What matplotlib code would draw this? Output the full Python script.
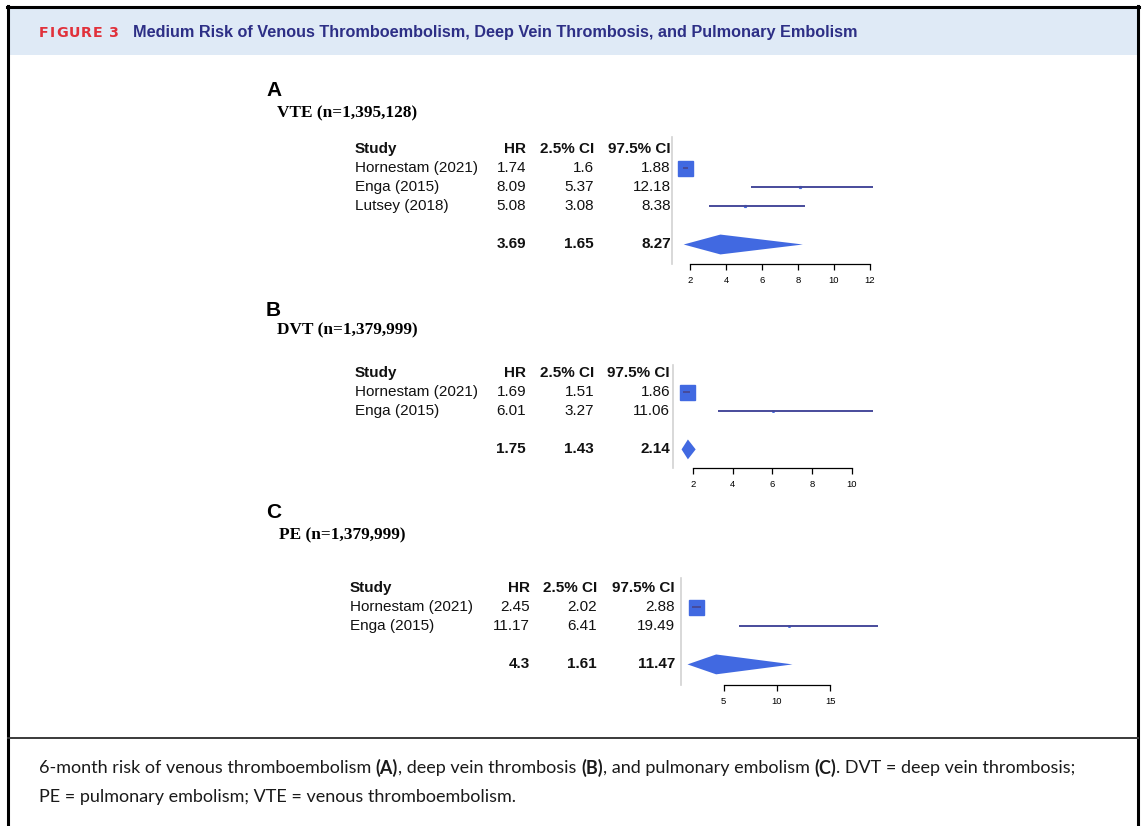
import matplotlib
matplotlib.use("Agg")
import matplotlib.pyplot as plt
import matplotlib.transforms as mtransforms
from matplotlib.patches import Rectangle
from matplotlib.lines import Line2D

W, H = 1142, 826

# ---- data ----
fig_label = "FIGURE 3"
header_title = "Medium Risk of Venous Thromboembolism, Deep Vein Thrombosis, and Pulmonary Embolism"
panel_letters = ["A", "B", "C"]
panel_titles = ["VTE (n=1,395,128)", "DVT (n=1,379,999)", "PE (n=1,379,999)"]
col_headers = ["Study", "HR", "2.5% CI", "97.5% CI"]

vte_studies = ["Hornestam (2021)", "Enga (2015)", "Lutsey (2018)"]
vte_hr = [1.74, 8.09, 5.08]
vte_lo = [1.6, 5.37, 3.08]
vte_hi = [1.88, 12.18, 8.38]
vte_weight = [1.0, 0.12, 0.12]
vte_pooled = [3.69, 1.65, 8.27]
vte_ticks = [2, 4, 6, 8, 10, 12]

dvt_studies = ["Hornestam (2021)", "Enga (2015)"]
dvt_hr = [1.69, 6.01]
dvt_lo = [1.51, 3.27]
dvt_hi = [1.86, 11.06]
dvt_weight = [1.0, 0.1]
dvt_pooled = [1.75, 1.43, 2.14]
dvt_ticks = [2, 4, 6, 8, 10]

pe_studies = ["Hornestam (2021)", "Enga (2015)"]
pe_hr = [2.45, 11.17]
pe_lo = [2.02, 6.41]
pe_hi = [2.88, 19.49]
pe_weight = [1.0, 0.1]
pe_pooled = [4.3, 1.61, 11.47]
pe_ticks = [5, 10, 15]

caption_line1 = [("6-month risk of venous thromboembolism ", "normal"), ("(A)", "bold"),
                 (", deep vein thrombosis ", "normal"), ("(B)", "bold"),
                 (", and pulmonary embolism ", "normal"), ("(C)", "bold"),
                 (". DVT = deep vein thrombosis;", "normal")]
caption_line2 = [("PE = pulmonary embolism; VTE = venous thromboembolism.", "normal")]

panels = [
    (vte_studies, vte_hr, vte_lo, vte_hi, vte_weight, vte_pooled, vte_ticks),
    (dvt_studies, dvt_hr, dvt_lo, dvt_hi, dvt_weight, dvt_pooled, dvt_ticks),
    (pe_studies, pe_hr, pe_lo, pe_hi, pe_weight, pe_pooled, pe_ticks),
]

# pixel layout of each panel (x0/x1 = plot area, ppu = pixels per HR unit)
layouts = [
    dict(letter_y=90, title_y=113, x0=672, x1=880, ppu=18.0, top=137, bottom=264, head=149,
         cols=(355, 526, 594, 671), title_x=277),
    dict(letter_y=311, title_y=330, x0=673, x1=880, ppu=19.875, top=365, bottom=468, head=373,
         cols=(355, 526, 594, 670), title_x=277),
    dict(letter_y=512, title_y=535, x0=681, x1=882, ppu=10.65, top=578, bottom=685, head=588,
         cols=(350, 530, 597, 675), title_x=279),
]
ROW = 19.1

BOX = "#4169e1"
CI_LINE = "#474b9b"
NAVY = "#2d2f86"
RED = "#e1313b"

fig = plt.figure(figsize=(W / 100, H / 100), dpi=100)
px = mtransforms.Affine2D().scale(1.0 / W, -1.0 / H).translate(0, 1) + fig.transFigure
renderer = fig.canvas.get_renderer()


def text_w(s, **kw):
    t = fig.text(0, 0, s, **kw)
    w = t.get_window_extent(renderer).width
    t.remove()
    return w


def space_w(**kw):
    return text_w("a a", **kw) - text_w("aa", **kw)


def runs_width(runs, size, family):
    total = 0
    for s, wt in runs:
        kw = dict(fontsize=size, family=family, fontweight=wt)
        core = s.strip(" ")
        n_sp = len(s) - len(core)
        total += text_w(core, **kw) + n_sp * space_w(**kw)
    return total


def draw_runs(x, y, runs, size, family, color):
    for s, wt in runs:
        kw = dict(fontsize=size, family=family, fontweight=wt)
        lead = len(s) - len(s.lstrip(" "))
        trail = len(s) - len(s.rstrip(" "))
        core = s.strip(" ")
        sw = space_w(**kw)
        x += lead * sw
        fig.text(x, y, core, transform=px, va="center", ha="left", color=color, **kw)
        x += text_w(core, **kw) + trail * sw
    return x


# ---- frame and header band ----
fig.add_artist(Rectangle((9, 8), 1128, 47, transform=px, facecolor="#dfeaf6", edgecolor="none"))
for xs, ys, lw, c in [([8, 8], [6, 826], 2.2, "black"),
                      ([1138, 1138], [6, 826], 2.2, "black"),
                      ([7, 1139], [7, 7], 2.2, "black"),
                      ([8, 1138], [738, 738], 1.4, "#3a3a3a")]:
    fig.add_artist(Line2D(xs, ys, transform=px, color=c, lw=lw))

# "FIGURE 3" with wide letter spacing
lab_kw = dict(fontsize=10.3, family="DejaVu Sans", fontweight="heavy", color=RED)
widths = [text_w(ch, **lab_kw) if ch != " " else space_w(**lab_kw) for ch in fig_label]
track = (80 - sum(widths)) / (len(fig_label) - 1)
xc = 39
for ch, w in zip(fig_label, widths):
    if ch != " ":
        fig.text(xc, 33, ch, transform=px, va="center", ha="left", **lab_kw)
    xc += w + track

tsize = 11.0
tsize *= 732 / text_w(header_title, fontsize=tsize, family="Liberation Sans", fontweight="bold")
fig.text(133, 33, header_title, transform=px, va="center", ha="left", fontsize=tsize,
         family="Liberation Sans", fontweight="bold", color=NAVY)

# ---- forest panels ----
for (studies, hr, lo, hi, wts, pooled, ticks), L, letter, title in zip(panels, layouts, panel_letters, panel_titles):
    fig.text(266, L["letter_y"], letter, transform=px, va="center", ha="left",
             fontsize=15, family="Liberation Sans", fontweight="bold", color="black")
    fig.text(L["title_x"], L["title_y"], title, transform=px, va="center", ha="left",
             fontsize=12.4, family="Liberation Serif", fontweight="bold", color="black")

    ax = fig.add_axes([L["x0"] / W, 1 - L["bottom"] / H, (L["x1"] - L["x0"]) / W,
                       (L["bottom"] - L["top"]) / H])
    ax.patch.set_alpha(0)
    ax.set_xlim(1, 1 + (L["x1"] - L["x0"]) / L["ppu"])
    ax.set_ylim((L["bottom"] - L["head"]) / ROW, (L["top"] - L["head"]) / ROW)

    n = len(studies)
    rows = list(range(1, n + 1))
    pooled_row = n + 2

    for r, h, l, u, w in zip(rows, hr, lo, hi, wts):
        ax.plot([h], [r], marker="s", ms=10.8 * w, color=BOX, mec=BOX, zorder=2, clip_on=False)
        ax.plot([l, u], [r, r], color=CI_LINE, lw=1.4, zorder=3, clip_on=False,
                solid_capstyle="butt")

    ph, pl, pu = pooled
    ax.fill([pl, ph, pu, ph], [pooled_row, pooled_row - 0.52, pooled_row, pooled_row + 0.52],
            color=BOX, lw=0)

    for side in ("top", "right"):
        ax.spines[side].set_visible(False)
    ax.spines["left"].set_color("#d2d2d2")
    ax.spines["left"].set_linewidth(1.2)
    ax.spines["bottom"].set_bounds(ticks[0], ticks[-1])
    ax.spines["bottom"].set_linewidth(0.9)
    ax.set_xticks(ticks)
    ax.set_xticklabels([str(t) for t in ticks], family="Liberation Sans")
    ax.set_yticks([])
    ax.tick_params(axis="x", direction="out", length=4.5, width=0.9, labelsize=6.8, pad=4.0)

    # table text aligned with the plot rows
    trans = mtransforms.blended_transform_factory(px, ax.transData)
    cx = L["cols"]
    tkw = dict(transform=trans, va="center", fontsize=11, family="Liberation Sans", color="#111111")
    ax.text(cx[0], 0, col_headers[0], ha="left", fontweight="bold", **tkw)
    for c, s in zip(cx[1:], col_headers[1:]):
        ax.text(c, 0, s, ha="right", fontweight="bold", **tkw)
    for r, name, h, l, u in zip(rows, studies, hr, lo, hi):
        ax.text(cx[0], r, name, ha="left", **tkw)
        for c, v in zip(cx[1:], (h, l, u)):
            ax.text(c, r, f"{v:g}", ha="right", **tkw)
    for c, v in zip(cx[1:], pooled):
        ax.text(c, pooled_row, f"{v:g}", ha="right", fontweight="bold", **tkw)

# ---- caption ----
cap_family = "Lato"
csize = 12.0
csize *= 1034 / runs_width(caption_line1, csize, cap_family)
draw_runs(39, 768, caption_line1, csize, cap_family, "#1a1a1a")
draw_runs(39, 797, caption_line2, csize, cap_family, "#1a1a1a")

fig.savefig("out.png", dpi=100)
